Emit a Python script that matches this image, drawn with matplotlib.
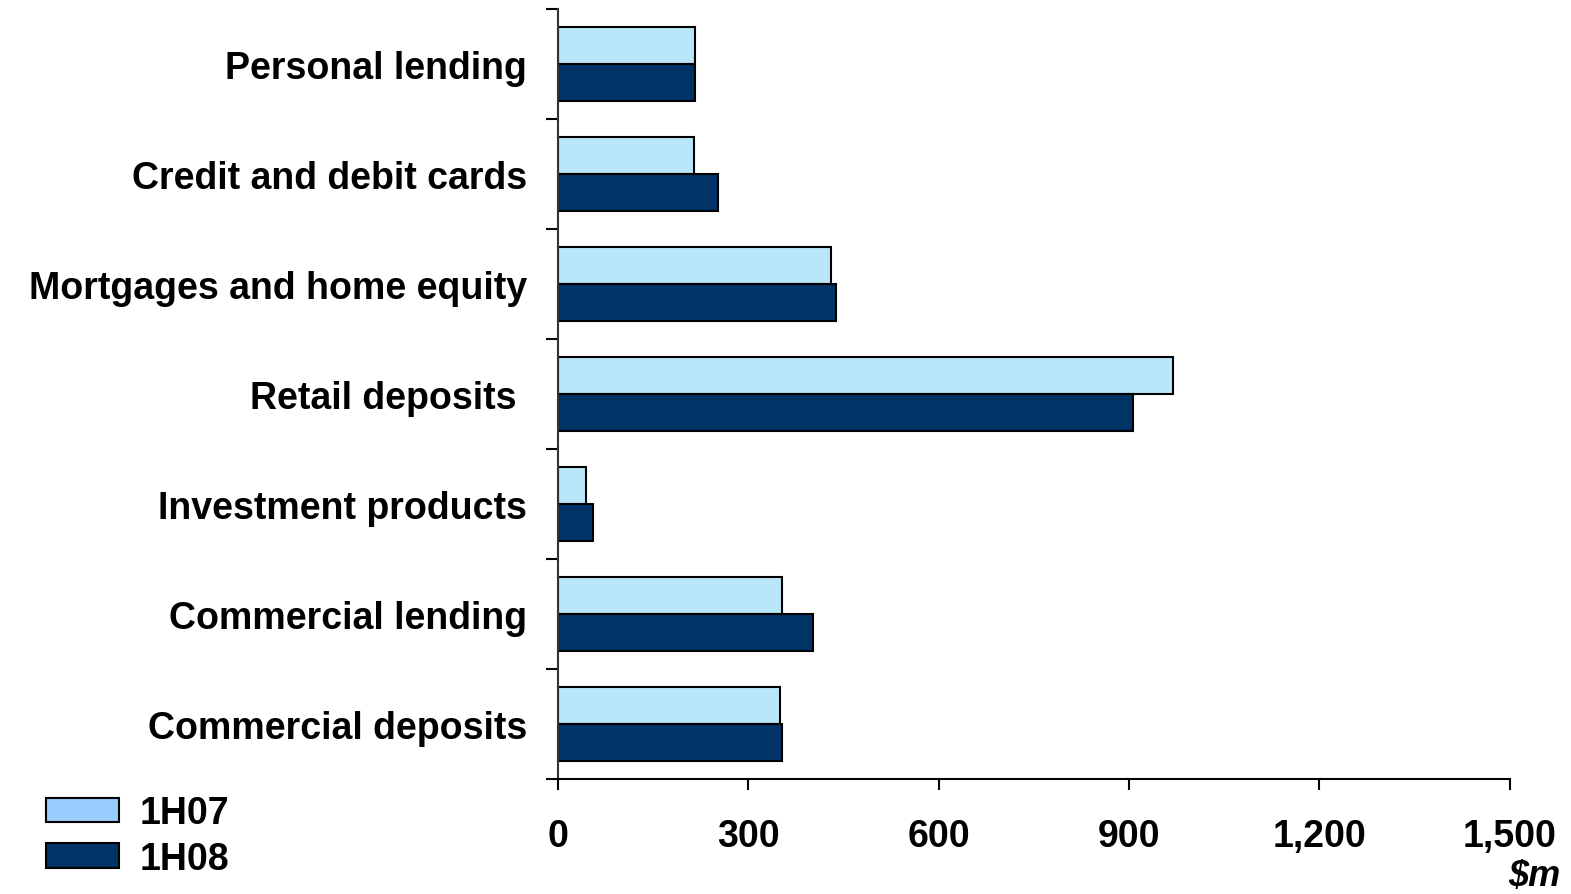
import matplotlib.pyplot as plt
import numpy as np
from matplotlib.patches import Patch
from matplotlib.ticker import FuncFormatter

plt.rcParams['font.family'] = ['Liberation Sans', 'DejaVu Sans']
plt.rcParams['font.weight'] = 'bold'

categories = ["Personal lending", "Credit and debit cards", "Mortgages and home equity",
              "Retail deposits ", "Investment products", "Commercial lending",
              "Commercial deposits"]
h1_07 = [217, 214, 430, 970, 45, 353, 350]
h1_08 = [217, 252, 438, 906, 55, 403, 353]

light = "#BAE6FA"
dark = "#003366"
fs = 27

fig = plt.figure(figsize=(15.71, 8.95), dpi=100)
ax = fig.add_axes([0.355, 0.128, 0.606, 0.861])

y = np.arange(len(categories))
h = 0.336
ax.barh(y - h / 2, h1_07, height=h, color=light, edgecolor="black", linewidth=1.5)
ax.barh(y + h / 2, h1_08, height=h, color=dark, edgecolor="black", linewidth=1.5)

ax.set_xlim(0, 1500)
ax.set_ylim(len(categories) - 0.5, -0.5)

# category boundaries get the tick marks, labels sit at the centres
ax.set_yticks(np.arange(len(categories) + 1) - 0.5)
ax.set_yticklabels([])
ax.set_yticks(y, minor=True)
ax.set_yticklabels(categories, minor=True, fontsize=fs, fontweight="bold")
ax.tick_params(axis="y", which="major", length=9, width=1.5, direction="out")
ax.tick_params(axis="y", which="minor", length=0, pad=22)

ax.set_xticks(np.arange(0, 1501, 300))
ax.xaxis.set_major_formatter(FuncFormatter(lambda v, p: f"{int(v):,}"))
ax.tick_params(axis="x", length=8, width=1.5, direction="out", labelsize=fs, pad=20)
for lbl in ax.get_xticklabels():
    lbl.set_fontweight("bold")

for s in ["top", "right"]:
    ax.spines[s].set_visible(False)
ax.spines["left"].set_linewidth(1.5)
ax.spines["left"].set_color("#333333")
ax.spines["bottom"].set_linewidth(1.5)

fig.text(0.993, 0.001, "$m", fontsize=26, fontweight="bold", style="italic",
         ha="right", va="bottom")

handles = [Patch(facecolor="#99CCFF", edgecolor="black", linewidth=1.5),
           Patch(facecolor=dark, edgecolor="black", linewidth=1.5)]
fig.legend(handles, ["1H07", "1H08"], loc="upper left", bbox_to_anchor=(0.008, 0.148),
           frameon=False, handlelength=1.95, handleheight=0.62,
           labelspacing=0.25, handletextpad=0.55, prop={"weight": "bold", "size": fs})

fig.savefig("out.png")
